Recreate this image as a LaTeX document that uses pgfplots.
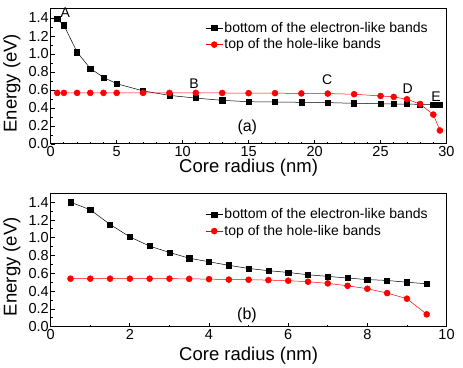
\documentclass[border=0pt]{standalone}
\usepackage{fontspec}
\setmainfont{Liberation Sans}
\usepackage{pgfplots}
\pgfplotsset{compat=1.18}

\pgfplotstableread{
x y
0.5 1.39
1 1.32
2 1.02
3 0.84
4 0.74
5 0.67
7 0.59
9 0.54
11 0.51
13 0.485
15 0.47
17 0.467
19 0.463
21 0.46
23 0.452
25 0.448
26 0.444
27 0.444
28 0.44
29 0.44
29.5 0.44
}\elecA
\pgfplotstableread{
x y
0.5 0.568
1 0.568
2 0.568
3 0.568
4 0.568
5 0.568
7 0.568
9 0.568
11 0.568
13 0.567
15 0.565
17 0.565
19 0.562
21 0.56
23 0.553
25 0.534
26 0.523
27 0.497
28 0.444
29 0.327
29.5 0.15
}\holeA
\pgfplotstableread{
x y
0.5 1.40
1 1.315
1.5 1.15
2 1.01
2.5 0.906
3 0.835
3.5 0.77
4 0.73
4.5 0.69
5 0.655
5.5 0.63
6 0.61
6.5 0.584
7 0.566
7.5 0.547
8 0.53
8.5 0.52
9 0.50
9.5 0.483
}\elecB
\pgfplotstableread{
x y
0.5 0.54
1 0.54
1.5 0.54
2 0.54
2.5 0.54
3 0.54
3.5 0.538
4 0.535
4.5 0.53
5 0.528
5.5 0.524
6 0.517
6.5 0.506
7 0.487
7.5 0.46
8 0.427
8.5 0.378
9 0.315
9.5 0.139
}\holeB

\tikzset{lab/.style={font=\fontsize{14}{16}\selectfont},
  plab/.style={font=\fontsize{16}{18}\selectfont}}

\begin{document}
\begin{tikzpicture}
\useasboundingbox (0pt,0pt) rectangle (463pt,367pt);
\pgfplotsset{
  panel/.style={
    scale only axis, anchor=south west,
    width=395.8pt,
    ymin=0, ymax=1.5,
    ytick={0,0.2,...,1.4},
    y tick label style={xshift=1.5pt, /pgf/number format/fixed,
      /pgf/number format/fixed zerofill, /pgf/number format/precision=1},
    x tick label style={yshift=1pt},
    minor y tick num=1,
    xtick pos=left, ytick pos=left,
    tick align=inside,
    major tick length=4pt, minor tick length=2pt,
    every tick/.style={black, line width=0.8pt},
    axis line style={line width=1pt},
    /pgf/number format/assume math mode=true,
    tick label style={font=\fontsize{14.5}{16}\selectfont},
    label style={font=\fontsize{18.5}{21}\selectfont},
    ylabel={Energy (eV)},
    xlabel={Core radius (nm)},
    ylabel style={at={(axis description cs:-0.098,0.45)}, anchor=center},
    legend cell align=left,
    legend style={draw=none, fill=none, font=\fontsize{14}{16}\selectfont,
      anchor=north west, row sep=2pt,
      nodes={inner sep=1.5pt}},
    legend image code/.code={\draw[mark repeat=2,mark phase=2,##1]
      plot coordinates {(0pt,0pt) (8.5pt,0pt) (17pt,0pt)};},
    clip=false,
  },
  elec/.style={black, line width=0.5pt, mark=square*, mark size=2.6pt,
    mark options={solid}},
  hole/.style={red, line width=0.5pt, mark=*, mark size=3pt,
    mark options={solid}},
}

\begin{axis}[panel, at={(50.7pt,223pt)}, height=135pt,
  xmin=0, xmax=30, xtick={0,5,...,30}, minor x tick num=4,
  xlabel style={at={(axis description cs:0.5,-0.21)}, anchor=base},
  legend style={at={(0.383,0.93)}}]
\addplot[elec] table {\elecA};
\addlegendentry{bottom of the electron-like bands}
\addplot[hole] table {\holeA};
\addlegendentry{top of the hole-like bands}
\node[lab] at (axis cs:1.1,1.46) {A};
\node[lab] at (axis cs:10.86,0.666) {B};
\node[lab] at (axis cs:20.96,0.71) {C};
\node[lab] at (axis cs:27.05,0.62) {D};
\node[lab] at (axis cs:29.2,0.53) {E};
\node[plab] at (axis cs:14.9,0.18) {(a)};
\end{axis}

\begin{axis}[panel, at={(50.7pt,40.3pt)}, height=133.4pt,
  xmin=0, xmax=10, xtick={0,2,...,10}, minor x tick num=1,
  xlabel style={at={(axis description cs:0.5,-0.25)}, anchor=base},
  legend style={at={(0.383,0.913)}}]
\addplot[elec] table {\elecB};
\addlegendentry{bottom of the electron-like bands}
\addplot[hole] table {\holeB};
\addlegendentry{top of the hole-like bands}
\node[plab] at (axis cs:4.96,0.13) {(b)};
\end{axis}
\end{tikzpicture}
\end{document}
